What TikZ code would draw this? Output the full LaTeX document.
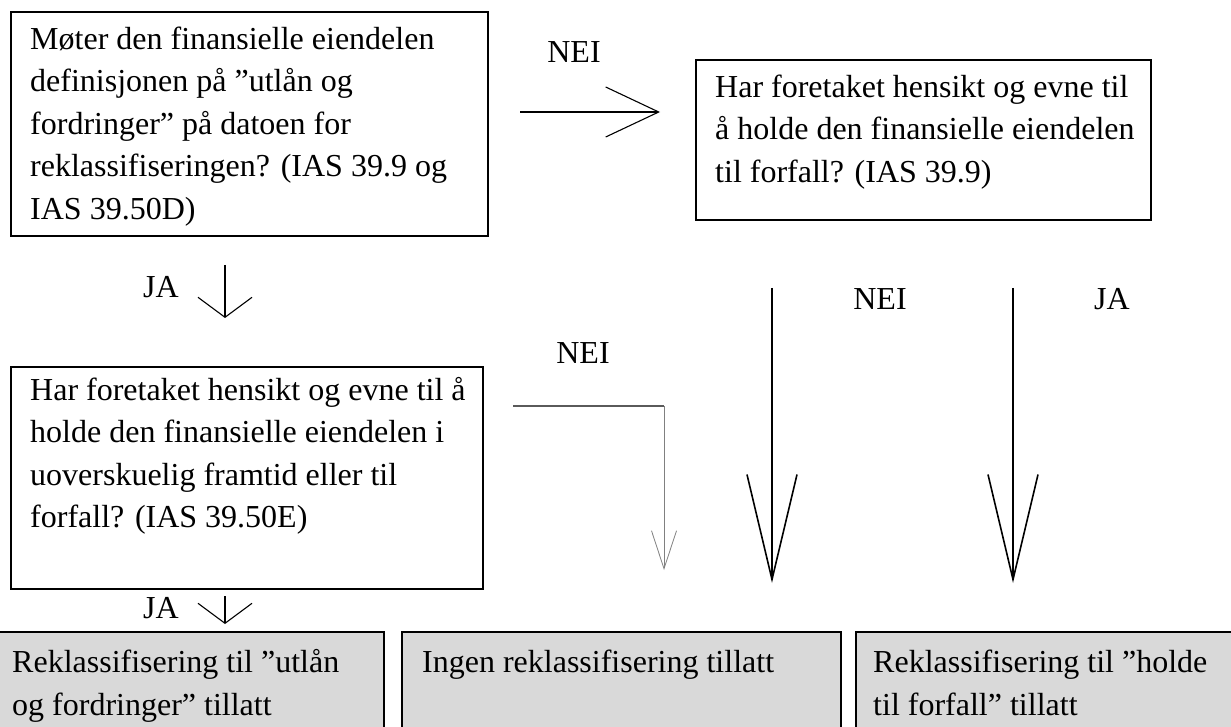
\documentclass[tikz,border=0pt]{standalone}
\usepackage{fontspec}
\setmainfont{Liberation Serif}
\usetikzlibrary{arrows.meta}

\definecolor{resgray}{RGB}{217,217,217}
\definecolor{elbowgray}{RGB}{90,90,90}

\tikzset{
  qbox/.style={draw=black, line width=1.8pt, anchor=north west, inner sep=0pt},
  rbox/.style={qbox, fill=resgray},
  txt/.style={align=left, inner sep=0pt, anchor=north west, font=\fontsize{32}{42.5}\selectfont},
  lbl/.style={inner sep=0pt, anchor=base, font=\fontsize{32}{42.5}\selectfont},
  sidearr/.style={line width=1.5pt, -{Straight Barb[length=53pt, width=50pt, line width=1.1pt]}},
  jaarr/.style={line width=1.5pt, -{Straight Barb[length=20pt, width=54pt, line width=1.1pt]}},
  longarr/.style={line width=2pt, -{Straight Barb[length=105pt, width=50pt, line width=1.6pt]}},
  elbowarr/.style={draw=gray, line width=0.8pt, -{Straight Barb[length=38pt, width=25pt, line width=0.8pt]}}
}

\begin{document}
\begin{tikzpicture}[x=1pt, y=-1pt] % one pt per pixel, y runs downwards

    \useasboundingbox (0,0) rectangle (1231,727);
    \clip (0,0) rectangle (1231,727);

    % Question boxes
    \node[qbox, minimum width=477pt, minimum height=224pt] (q1) at (10,11) {};
    \node[txt] (q1t) at (30,19.25) {\strut Møter den finansielle eiendelen\\definisjonen på ”utlån og\\fordringer” på datoen for\\reklassifiseringen? (IAS 39.9 og\\IAS 39.50D)};

    \node[qbox, minimum width=455pt, minimum height=160pt] (q2) at (695,59) {};
    \node[txt] (q2t) at (715,67.25) {\strut Har foretaket hensikt og evne til\\å holde den finansielle eiendelen\\til forfall? (IAS 39.9)};

    \node[qbox, minimum width=472pt, minimum height=222pt] (q3) at (10,366) {};
    \node[txt] (q3t) at (30,370.25) {\strut Har foretaket hensikt og evne til å\\holde den finansielle eiendelen i\\uoverskuelig framtid eller til\\forfall? (IAS 39.50E)};

    % Result boxes (run off the bottom edge)
    \node[rbox, minimum width=393pt, minimum height=120pt] (r1) at (-10,631) {};
    \node[txt] (r1t) at (12,643) {\strut Reklassifisering til ”utlån\\og fordringer” tillatt};

    \node[rbox, minimum width=439pt, minimum height=120pt] (r2) at (401,631) {};
    \node[txt] (r2t) at (422,643) {\strut Ingen reklassifisering tillatt};

    \node[rbox, minimum width=400pt, minimum height=120pt] (r3) at (855,631) {};
    \node[txt] (r3t) at (873,643) {\strut Reklassifisering til ”holde\\til forfall” tillatt};

    % Labels
    \node[lbl] (nei1) at (574,63) {NEI};
    \node[lbl] (ja1) at (161,298) {JA};
    \node[lbl] (nei2) at (583,363) {NEI};
    \node[lbl] (ja2) at (161,618) {JA};
    \node[lbl] (nei3) at (880,309) {NEI};
    \node[lbl] (ja3) at (1112,309) {JA};

    % Arrows
    \coordinate (s1) at (520,112);
    \coordinate (e1) at (660,112);
    \draw[sidearr] (s1) -- (e1);

    \coordinate (s2) at (225,265);
    \coordinate (e2) at (225,318);
    \draw[jaarr] (s2) -- (e2);

    \coordinate (s3) at (225,596);
    \coordinate (e3) at (225,624);
    \draw[jaarr] (s3) -- (e3);

    \coordinate (s4) at (513,406);
    \coordinate (k4) at (664,406);
    \coordinate (e4) at (664,570);
    \draw[elbowgray, line width=1.6pt] (s4) -- (k4);
    \draw[elbowarr] (k4) -- (e4);

    \foreach \x/\nm in {772/nei, 1013/ja} {
        \coordinate (\nm-s) at (\x,288);
        \coordinate (\nm-e) at (\x,583);
        \draw[longarr] (\nm-s) -- (\nm-e);
    }

\end{tikzpicture}
\end{document}
